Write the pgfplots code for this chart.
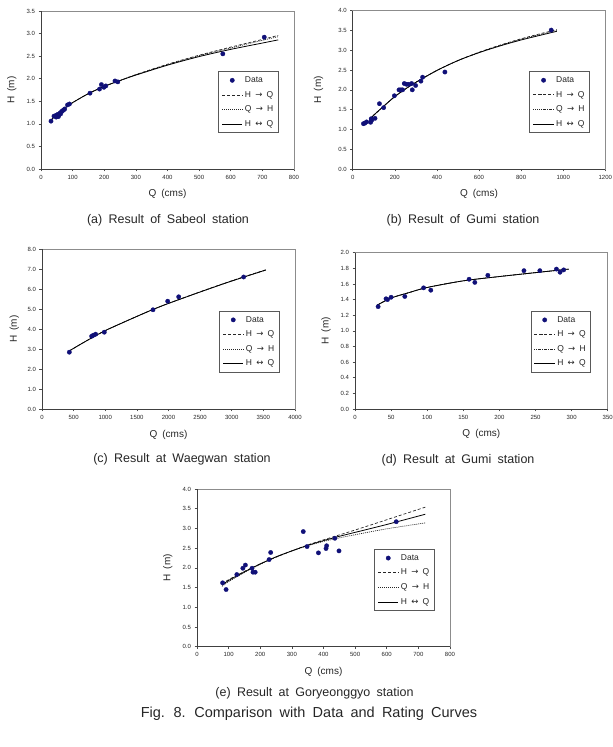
\documentclass[border=0pt]{standalone}
\usepackage{fontspec}
\setmainfont[WordSpace=1.8]{Liberation Sans}
\newfontfamily\symf{DejaVu Sans}
\usepackage{pgfplots}
\pgfplotsset{compat=1.18}
\definecolor{navy}{RGB}{16,16,120}
\newcommand{\ra}{{\symf\char"2192}}
\newcommand{\lra}{{\symf\char"2194}}
\pgfplotsset{
  base/.style={
    scale only axis, anchor=south west,
    tick align=outside, tick pos=left,
    major tick length=2.5pt,
    axis line style={black!45, line width=0.6pt},
    tick style={black!70, line width=0.5pt},
    tick label style={font=\fontsize{6}{7}\selectfont, text=black!85},
    /pgf/number format/assume math mode=true,
    xticklabel style={/pgf/number format/1000 sep={}},
    yticklabel style={/pgf/number format/.cd, fixed, fixed zerofill, precision=1},
    label style={font=\fontsize{10}{12}\selectfont, text=black!85},
    xlabel={Q (cms)}, ylabel={H (m)},
    x label style={at={(axis description cs:0.5,-0.16)}, anchor=center},
    y label style={at={(axis description cs:-0.115,0.5)}, anchor=center},
    legend style={at={(0.94,0.225)}, anchor=south east,
      font=\fontsize{8.5}{10}\selectfont, text=black!85, draw=black!65, line width=1.1pt,
      row sep=3.2pt, inner xsep=3pt, inner ysep=3pt,
      /tikz/every even column/.append style={column sep=1pt}},
    legend cell align=left,
    legend image code/.code={\draw[mark repeat=2,mark phase=2,#1] plot coordinates {(0cm,0cm) (0.36cm,0cm) (0.72cm,0cm)};},
    after end axis/.code={\draw[black!75, line width=0.6pt] (rel axis cs:0,1) -- (rel axis cs:0,0) -- (rel axis cs:1,0);},
  },
  dataplot/.style={only marks, mark=*, mark size=2.2pt, color=navy, mark options={line width=0.3pt}},
  hq/.style={black!85, line width=0.7pt, dash pattern=on 3pt off 2pt, smooth, no marks},
  qh/.style={black!85, line width=0.7pt, dash pattern=on 1pt off 1pt, smooth, no marks},
  hqq/.style={black, line width=0.8pt, solid, smooth, no marks},
}
\newcommand{\legendset}{%
  \addlegendimage{dataplot}\addlegendentry{Data}%
}
\begin{document}
\begin{tikzpicture}
\useasboundingbox (0pt,0pt) rectangle (613pt,747pt);
% ---------- (a)
\begin{axis}[base, at={(41pt,578pt)}, width=253pt, height=158pt,
  xmin=0, xmax=800, ymin=0, ymax=3.5, xtick={0,100,...,800}, ytick={0,0.5,...,3.5}]
\legendset
\addplot[hq] coordinates {(30,1.07) (50,1.21) (75,1.35) (100,1.47) (150,1.67) (200,1.83) (250,1.96) (300,2.09) (400,2.32) (500,2.52) (600,2.70) (700,2.87) (750,2.96)};
\addlegendentry{H \ra{} Q}
\addplot[qh] coordinates {(30,1.07) (50,1.21) (75,1.35) (100,1.47) (150,1.67) (200,1.83) (250,1.96) (300,2.09) (400,2.31) (500,2.51) (600,2.68) (700,2.85) (750,2.93)};
\addlegendentry{Q \ra{} H}
\addplot[hqq] coordinates {(30,1.07) (50,1.21) (75,1.35) (100,1.47) (150,1.67) (200,1.83) (250,1.96) (300,2.08) (400,2.30) (500,2.49) (600,2.65) (700,2.79) (750,2.86)};
\addlegendentry{H \lra{} Q}
\addplot[dataplot, forget plot] coordinates {(31.6,1.06) (41,1.17) (45,1.18) (48,1.15) (50,1.19) (53,1.21) (55,1.16) (57,1.20) (60,1.24) (62,1.22) (65,1.27) (68,1.29) (72,1.31) (75,1.33) (84,1.42) (90,1.44) (155,1.68) (185,1.77) (191,1.87) (199,1.81) (205,1.84) (234,1.95) (243,1.93) (575,2.55) (706,2.92)};
\end{axis}
% ---------- (b)
\begin{axis}[base, at={(352.7pt,578pt)}, width=252.6pt, height=158.3pt,
  xmin=0, xmax=1200, ymin=0, ymax=4, xtick={0,200,...,1200}, ytick={0,0.5,...,4},
  y label style={at={(axis description cs:-0.135,0.5)}}]
\legendset
\addplot[hq] coordinates {(80,1.25) (100,1.36) (150,1.60) (200,1.83) (250,2.02) (300,2.19) (400,2.49) (500,2.74) (600,2.95) (700,3.13) (800,3.29) (900,3.43) (970,3.52)};
\addlegendentry{H \ra{} Q}
\addplot[qh] coordinates {(80,1.25) (100,1.36) (150,1.60) (200,1.83) (250,2.02) (300,2.19) (400,2.49) (500,2.74) (600,2.94) (700,3.12) (800,3.28) (900,3.41) (970,3.50)};
\addlegendentry{Q \ra{} H}
\addplot[hqq] coordinates {(80,1.25) (100,1.36) (150,1.60) (200,1.83) (250,2.02) (300,2.19) (400,2.49) (500,2.74) (600,2.94) (700,3.11) (800,3.26) (900,3.39) (970,3.48)};
\addlegendentry{H \lra{} Q}
\addplot[dataplot, forget plot] coordinates {(51,1.145) (58,1.16) (66,1.19) (85,1.18) (88,1.27) (90,1.23) (106,1.28) (127,1.65) (147,1.55) (198,1.85) (220,2.00) (229,2.00) (237,2.00) (245,2.16) (256,2.14) (266,2.14) (280,2.16) (283,2.00) (299,2.11) (324,2.22) (332,2.32) (438,2.45) (943,3.51)};
\end{axis}
% ---------- (c)
\begin{axis}[base, at={(42pt,338pt)}, width=253pt, height=160pt,
  xmin=0, xmax=4000, ymin=0, ymax=8, xtick={0,500,...,4000}, ytick={0,1,...,8},
  y label style={at={(axis description cs:-0.11,0.5)}}]
\legendset
\addplot[hq] coordinates {(430,2.90) (600,3.22) (800,3.58) (1000,3.92) (1250,4.28) (1500,4.63) (1750,4.97) (2000,5.28) (2500,5.86) (3000,6.41) (3540,6.96)};
\addlegendentry{H \ra{} Q}
\addplot[qh] coordinates {(430,2.90) (600,3.22) (800,3.58) (1000,3.92) (1250,4.28) (1500,4.63) (1750,4.97) (2000,5.28) (2500,5.85) (3000,6.40) (3540,6.95)};
\addlegendentry{Q \ra{} H}
\addplot[hqq] coordinates {(430,2.90) (600,3.22) (800,3.58) (1000,3.92) (1250,4.28) (1500,4.63) (1750,4.97) (2000,5.28) (2500,5.85) (3000,6.40) (3540,6.95)};
\addlegendentry{H \lra{} Q}
\addplot[dataplot, forget plot] coordinates {(432,2.84) (785,3.64) (812,3.69) (848,3.74) (985,3.84) (1755,4.96) (1987,5.39) (2161,5.61) (3188,6.60)};
\end{axis}
% ---------- (d)
\begin{axis}[base, at={(355pt,338pt)}, width=252.7pt, height=156.3pt,
  xmin=0, xmax=350, ymin=0, ymax=2, xtick={0,50,...,350}, ytick={0,0.2,...,2.0},
  legend style={at={(0.935,0.23)}}]
\legendset
\addplot[hq] coordinates {(31,1.33) (50,1.42) (75,1.49) (100,1.555) (150,1.64) (200,1.695) (250,1.745) (296,1.79)};
\addlegendentry{H \ra{} Q}
\addplot[qh] coordinates {(31,1.33) (50,1.42) (75,1.49) (100,1.555) (150,1.64) (200,1.695) (250,1.745) (296,1.79)};
\addlegendentry{Q \ra{} H}
\addplot[hqq] coordinates {(31,1.33) (50,1.42) (75,1.49) (100,1.555) (150,1.64) (200,1.695) (250,1.745) (296,1.79)};
\addlegendentry{H \lra{} Q}
\addplot[dataplot, forget plot] coordinates {(32,1.31) (43,1.41) (45,1.40) (50,1.43) (69,1.44) (95,1.55) (105,1.52) (158,1.66) (166,1.62) (184,1.71) (234,1.77) (256,1.77) (279,1.79) (284,1.75) (289,1.78)};
\end{axis}
% ---------- (e)
\begin{axis}[base, at={(197pt,100.3pt)}, width=253pt, height=157.7pt,
  xmin=0, xmax=800, ymin=0, ymax=4, xtick={0,100,...,800}, ytick={0,0.5,...,4}]
\legendset
\addplot[hq] coordinates {(79,1.59) (100,1.70) (150,1.91) (200,2.10) (250,2.27) (300,2.43) (350,2.58) (400,2.71) (500,2.96) (600,3.22) (722,3.54)};
\addlegendentry{H \ra{} Q}
\addplot[qh] coordinates {(79,1.53) (100,1.65) (150,1.88) (200,2.09) (250,2.27) (300,2.43) (350,2.56) (400,2.67) (450,2.76) (500,2.84) (600,2.99) (722,3.14)};
\addlegendentry{Q \ra{} H}
\addplot[hqq] coordinates {(79,1.56) (100,1.68) (150,1.90) (200,2.10) (250,2.28) (300,2.43) (350,2.57) (400,2.69) (450,2.80) (500,2.90) (600,3.10) (722,3.36)};
\addlegendentry{H \lra{} Q}
\addplot[dataplot, forget plot] coordinates {(81,1.62) (92,1.45) (126,1.83) (145,1.99) (153,2.07) (174,1.99) (177,1.89) (184,1.89) (228,2.21) (233,2.39) (336,2.92) (348,2.54) (384,2.38) (410,2.56) (408,2.49) (436,2.75) (449,2.43) (630,3.17)};
\end{axis}
% ---------- captions
\begin{scope}[every node/.style={font=\fontsize{12.5}{14}\selectfont, text=black!85, inner sep=0pt}]
\node at (168pt,527pt) {(a) Result of Sabeol station};
\node at (463pt,527pt) {(b) Result of Gumi station};
\node at (182pt,288pt) {(c) Result at Waegwan station};
\node at (458pt,287pt) {(d) Result at Gumi station};
\node at (314.5pt,54pt) {(e) Result at Goryeonggyo station};
\node[font=\fontsize{14.5}{16}\selectfont] at (309pt,33pt) {Fig. 8. Comparison with Data and Rating Curves};
\end{scope}
\end{tikzpicture}
\end{document}
